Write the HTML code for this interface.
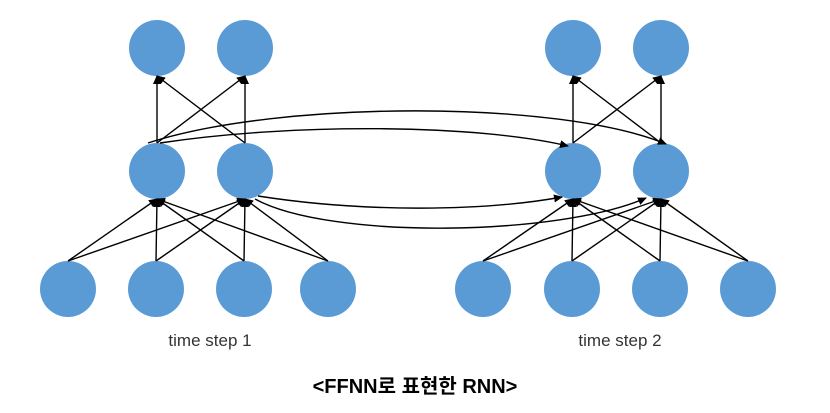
<!DOCTYPE html>
<html><head><meta charset="utf-8"><style>
body{margin:0;background:#fff;}
svg{display:block}
text{font-family:"Liberation Sans","Noto Sans CJK KR",sans-serif;}
</style></head><body>
<svg id="s" width="830" height="413" viewBox="0 0 830 413" xmlns="http://www.w3.org/2000/svg">
<defs><marker id="a" markerWidth="9" markerHeight="8" refX="8" refY="4" orient="auto" markerUnits="userSpaceOnUse"><path d="M0,0 L9,4 L0,8 z" fill="#000"/></marker></defs>
<g id="lines" stroke="#000" stroke-width="1.4" fill="none"></g>
<g fill="none" stroke="#000" stroke-width="1.4" marker-end="url(#a)">
<path d="M148,143 C280,100 560,100 666,144"/>
<path d="M160,143 C300,122 480,125 568,146"/>
<path d="M258,196 C360,212 480,212 562,197"/>
<path d="M255,199 C330,240 560,236 646,198"/>
</g>
<g id="circ" fill="#5B9BD5"></g>
<text x="210" y="346" font-size="17" text-anchor="middle" fill="#333">time step 1</text>
<text x="620" y="346" font-size="17" text-anchor="middle" fill="#333">time step 2</text>
<text x="415" y="393" font-size="20" font-weight="bold" text-anchor="middle" fill="#000">&lt;FFNN로 표현한 RNN&gt;</text>
</svg>
<script>
var R=28,ns="http://www.w3.org/2000/svg";
function groups(off,bx){return {top:[[157+off,48],[245+off,48]],mid:[[157+off,171],[245+off,171]],bot:bx.map(function(x){return [x,289]})};}
var G=[groups(0,[68,156,244,328]),groups(416,[483,572,660,748])];
var L=document.getElementById('lines'),C=document.getElementById('circ');
function line(a,b){
var l=document.createElementNS(ns,'line');l.setAttribute('x1',a[0]);l.setAttribute('y1',a[1]-R);
l.setAttribute('x2',b[0]);l.setAttribute('y2',b[1]+R);l.setAttribute('marker-end','url(#a)');L.appendChild(l);}
G.forEach(function(g){
g.mid.forEach(function(m){g.top.forEach(function(t){line(m,t);});g.bot.forEach(function(b){line(b,m);});});
g.top.concat(g.mid,g.bot).forEach(function(p){var c=document.createElementNS(ns,'ellipse');c.setAttribute('cx',p[0]);c.setAttribute('cy',p[1]);c.setAttribute('rx',28);c.setAttribute('ry',28);C.insertBefore(c,C.firstChild);});
});
document.getElementById('s').insertBefore(C,L);
</script>
</body></html>
